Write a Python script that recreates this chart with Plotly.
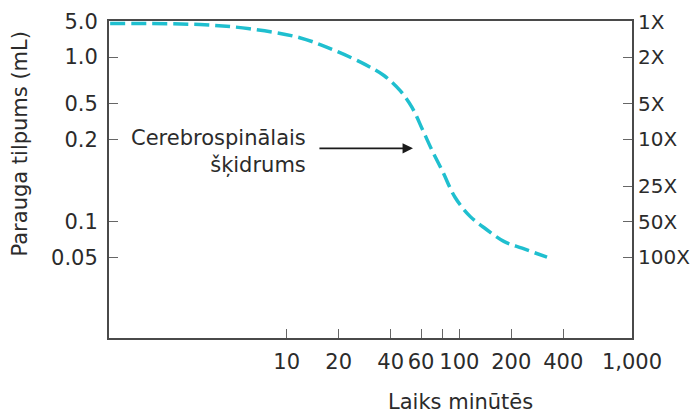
import plotly.graph_objects as go

# Data (time in minutes, dilution factor)
time_min = [0.95, 3.15, 6.1, 11.9, 19.0, 28.4, 36.6, 45.3, 53.2, 61.5, 69.5, 80.4, 94.4, 115, 143, 181, 231, 322]
dilution = [1.04, 1.06, 1.15, 1.37, 1.76, 2.31, 2.87, 3.84, 5.35, 8.39, 12.4, 19.0, 31.0, 44.8, 57.9, 73.4, 83.9, 100]

x_tickvals = [10, 20, 40, 60, 80, 100, 200, 400, 1000]
x_ticktext = ["10", "20", "40", "60", "", "100", "200", "400", "1,000"]

left_tickvals = [1, 2, 5, 10, 50, 100]
left_ticktext = ["5.0", "1.0", "0.5", "0.2", "0.1", "0.05"]

right_tickvals = [1, 2, 5, 10, 25, 50, 100]
right_ticktext = ["1X", "2X", "5X", "10X", "25X", "50X", "100X"]

FONT = "DejaVu Sans"
FS = 21
TXT = "#2b2b2b"
AX = "#4a4a4a"
CURVE = "#1fbfcf"

fig = go.Figure()
fig.add_trace(go.Scatter(x=time_min, y=dilution, mode="lines",
                         line=dict(color=CURVE, width=3.5, dash="15px,6px", shape="spline"),
                         showlegend=False, hoverinfo="skip"))
fig.add_trace(go.Scatter(x=time_min, y=dilution, mode="lines", yaxis="y2",
                         line=dict(color="rgba(0,0,0,0)", width=0),
                         showlegend=False, hoverinfo="skip"))

yrange = [2.686, -0.005]
xrange = [-0.029, 3.0]

# page body has an 8px margin, so the figure is 690x407
fig.update_layout(
    width=690, height=407,
    margin=dict(l=101, r=66, t=13, b=77, autoexpand=False),
    paper_bgcolor="white", plot_bgcolor="white",
    font=dict(family=FONT, size=FS, color=TXT),
    xaxis=dict(type="log", range=xrange, tickvals=x_tickvals, ticktext=x_ticktext,
               ticks="inside", ticklen=9, tickcolor="#666", tickwidth=1.2,
               showline=True, linecolor=AX, linewidth=2, mirror=True, automargin=False,
               showgrid=False, zeroline=False, ticklabelstandoff=4,
               tickfont=dict(family=FONT, size=FS, color=TXT)),
    yaxis=dict(type="log", range=yrange, tickvals=left_tickvals, ticktext=left_ticktext,
               ticks="inside", ticklen=9, tickcolor="#666", tickwidth=1.2,
               showline=True, linecolor=AX, linewidth=2, mirror=True, automargin=False,
               showgrid=False, zeroline=False, ticklabelstandoff=5,
               tickfont=dict(family=FONT, size=FS, color=TXT)),
    yaxis2=dict(type="log", range=yrange, overlaying="y", side="right",
                tickvals=right_tickvals, ticktext=right_ticktext,
                ticks="inside", ticklen=9, tickcolor="#666", tickwidth=1.2,
                showline=True, linecolor=AX, linewidth=2, automargin=False,
                showgrid=False, zeroline=False, ticklabelstandoff=0,
                tickfont=dict(family=FONT, size=20, color=TXT)),
)

# Axis titles as annotations (positioned as in reference)
fig.add_annotation(text="Parauga tilpums (mL)", xref="paper", yref="paper",
                   x=-0.170, y=0.972, xanchor="center", yanchor="top", textangle=-90,
                   showarrow=False, font=dict(family=FONT, size=FS, color=TXT))
fig.add_annotation(text="Laiks minūtēs", xref="paper", yref="paper",
                   x=0.673, y=-0.203, xanchor="center", yanchor="middle",
                   showarrow=False, font=dict(family=FONT, size=FS, color=TXT))

# Curve label and arrow
fig.add_annotation(text="Cerebrospinālais<br>šķidrums", xref="x", yref="y",
                   x=1.123, y=1.102, xanchor="right", yanchor="middle", align="right",
                   showarrow=False, font=dict(family=FONT, size=FS, color=TXT))
fig.add_annotation(x=1.7315, y=1.076, xref="x", yref="y", ax=1.181, ay=1.076,
                   axref="x", ayref="y", text="", showarrow=True,
                   arrowhead=2, arrowsize=1.3, arrowwidth=1.6, arrowcolor="#1a1a1a")

fig.write_html("out.html")
